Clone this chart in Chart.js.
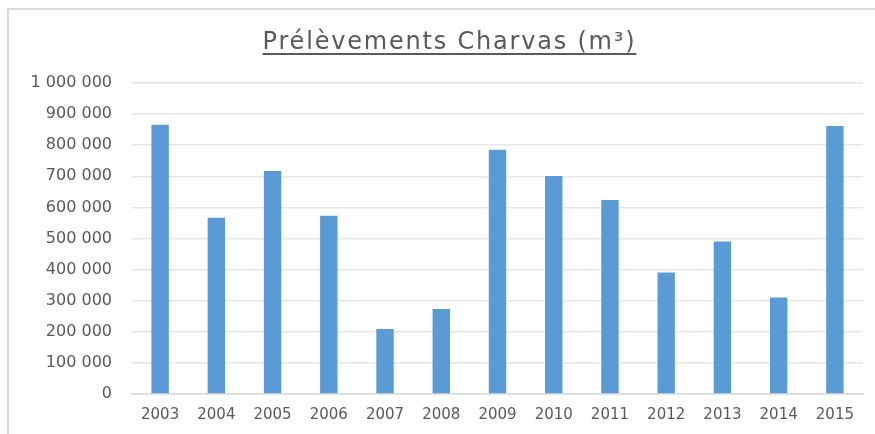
<!DOCTYPE html>
<html>
<head>
<meta charset="utf-8">
<script src="https://cdn.jsdelivr.net/npm/chart.js@4.4.1/dist/chart.umd.min.js"></script>
<style>
    html, body { margin: 0; padding: 0; background: #ffffff; overflow: hidden; }
    #wrap { position: relative; width: 875px; height: 434px; overflow: hidden; }
    .bord { position: absolute; background: #d9d9d9; }
    #bord-haut { left: 7px; top: 8px; width: 868px; height: 2px; }
    #bord-gauche { left: 7px; top: 8px; width: 2px; height: 426px; }
    #titre { position: absolute; left: 0; top: 28px; width: 899px; text-align: center;
             font-family: 'DejaVu Sans', sans-serif; font-size: 24px; line-height: 26px;
             letter-spacing: 1.8px; color: #595959; white-space: nowrap;
             text-decoration: underline; text-decoration-thickness: 1.5px;
             text-underline-offset: 4px; }
    canvas { position: absolute; left: 0; top: 0; }
</style>
</head>
<body>
<div id="wrap">
    <div class="bord" id="bord-haut"></div>
    <div class="bord" id="bord-gauche"></div>
    <canvas id="chart-charvas" width="875" height="434"></canvas>
    <div id="titre"></div>
</div>
<script>
// Données
const titre = 'Prélèvements Charvas (m³)';
const annees = ['2003', '2004', '2005', '2006', '2007', '2008', '2009', '2010', '2011', '2012', '2013', '2014', '2015'];
const volumes = [866000, 567000, 717000, 573000, 209000, 273000, 785000, 701000, 624000, 391000, 490000, 310000, 862000];
const axeMax = 1000000;
const axePas = 100000;

const gris = '#595959';

document.getElementById('titre').textContent = titre;

// 1000000 -> "1 000 000"
function formatNombre(v) {
    return String(v).replace(/\B(?=(\d{3})+(?!\d))/g, ' ');
}

const ctx = document.getElementById('chart-charvas');

new Chart(ctx, {
    type: 'bar',
    data: {
        labels: annees,
        datasets: [{
            label: 'Prélèvements',
            data: volumes,
            backgroundColor: '#5b9bd5',
            borderWidth: 0,
            categoryPercentage: 1,
            barPercentage: 0.31
        }]
    },
    options: {
        responsive: false,
        animation: false,
        layout: {
            padding: { left: 0, right: 12, top: 83, bottom: 0 }
        },
        plugins: {
            legend: { display: false },
            tooltip: { enabled: false },
            title: { display: false }
        },
        scales: {
            x: {
                grid: { display: false, drawTicks: false },
                border: { display: true, color: '#d9d9d9', width: 1.5 },
                ticks: {
                    color: gris,
                    font: { family: 'DejaVu Sans', size: 15 },
                    padding: 12,
                    maxRotation: 0
                },
                afterFit(scale) { scale.height = 40; }
            },
            y: {
                min: 0,
                max: axeMax,
                grid: { color: '#e6e6e6', lineWidth: 1.5, drawTicks: false },
                border: { display: false },
                ticks: {
                    stepSize: axePas,
                    color: gris,
                    font: { family: 'DejaVu Sans', size: 16 },
                    padding: 20,
                    callback: v => formatNombre(v)
                },
                afterFit(scale) { scale.width = 132; }
            }
        }
    }
});
</script>
</body>
</html>
